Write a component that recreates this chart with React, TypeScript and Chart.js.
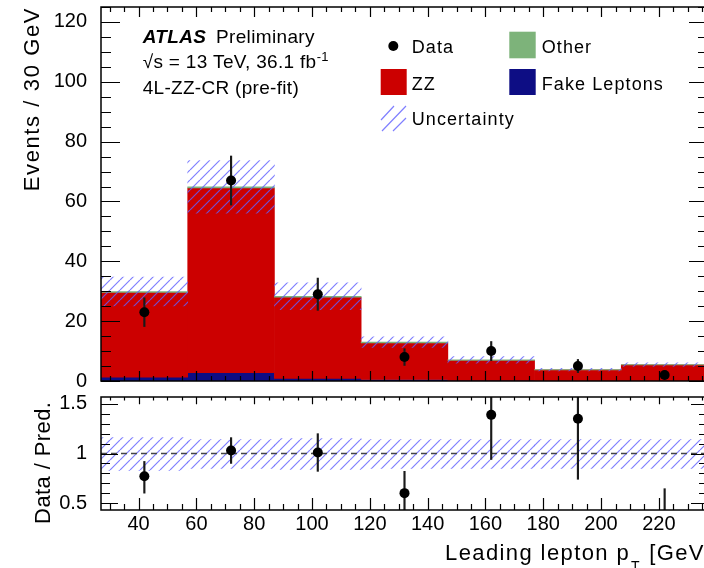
import React, { useEffect, useRef } from 'react';
import { Chart, registerables } from 'chart.js';

Chart.register(...registerables);

// ---------------- data ----------------
const binCenters = [42, 72, 102, 132, 162, 192, 222];
const xRange = [27, 237];
const fakeLeptons = [1.3, 2.8, 0.9, 0.5, 0.2, 0.1, 0.1];
const zzValues = [28.3, 61.7, 27.1, 12.2, 6.7, 3.6, 5.3];
const otherValues = [0.3, 0.4, 0.3, 0.3, 0.2, 0.1, 0.1];
const predUncertainty = [4.8, 8.8, 4.5, 1.8, 1.1, 0.4, 0.6];
const dataValues = [23, 67, 29, 8, 10, 5, 2];
const dataErrors = [4.8, 8.2, 5.4, 2.8, 3.2, 2.2, 1.4];
const ratioValues = [0.77, 1.03, 1.01, 0.6, 1.39, 1.35, 0.36];
const ratioErrLow = [0.6, 0.9, 0.82, 0.39, 0.94, 0.74, 0.08];
const ratioErrHigh = [0.92, 1.16, 1.2, 0.82, 1.84, 1.96, 0.645];
const ratioBandLow = [0.83, 0.85, 0.84, 0.85, 0.85, 0.85, 0.85];
const ratioBandHigh = [1.16, 1.14, 1.15, 1.14, 1.14, 1.14, 1.14];
const mainYTicks = [0, 20, 40, 60, 80, 100, 120];
const ratioYTicks = [0.5, 1, 1.5];
const xTicks = [40, 60, 80, 100, 120, 140, 160, 180, 200, 220];
const yMainRange = [0, 125];
const yRatioRange = [0.43, 1.57];

// ---------------- style ----------------
const FONT = '"Liberation Sans", Arial, sans-serif';
const RED = '#cc0000';
const BLUE = '#0d0d84';
const GREEN = '#7db37a';
const HATCH = 'rgba(95,95,255,0.8)';

function makeHatch(color: string, spacing = 10, lw = 1.2) {
  const c = document.createElement('canvas');
  c.width = spacing;
  c.height = spacing;
  const g = c.getContext('2d')!;
  g.strokeStyle = color;
  g.lineWidth = lw;
  g.beginPath();
  for (const k of [-1, 0, 1]) {
    g.moveTo(k * spacing, spacing);
    g.lineTo(k * spacing + spacing, 0);
  }
  g.stroke();
  return g.createPattern(c, 'repeat')!;
}

function txt(ctx: any, s: string, x: number, y: number, font: string, spacing = 0, align = 'left') {
  ctx.font = font;
  ctx.letterSpacing = spacing + 'px';
  ctx.textAlign = align;
  ctx.textBaseline = 'alphabetic';
  ctx.fillText(s, x, y);
  const w = ctx.measureText(s).width;
  ctx.letterSpacing = '0px';
  return w;
}

function framePlugin(id: string, cfg: any) {
  return {
    id,
    afterDraw(chart: any) {
      const { ctx, chartArea: a } = chart;
      const xs = chart.scales.x;
      const ys = chart.scales.y;
      ctx.save();
      ctx.strokeStyle = '#000';
      ctx.lineWidth = 1.2;
      ctx.beginPath();
      const kx0 = Math.ceil(xs.min / cfg.xStep);
      const kx1 = Math.floor(xs.max / cfg.xStep);
      for (let k = kx0; k <= kx1; k++) {
        const v = k * cfg.xStep;
        const px = Math.round(xs.getPixelForValue(v)) + 0.5;
        const major = Math.abs(v / cfg.xMajor - Math.round(v / cfg.xMajor)) < 1e-6;
        const len = major ? cfg.xMajLen : cfg.xMinLen;
        ctx.moveTo(px, a.bottom);
        ctx.lineTo(px, a.bottom - len);
        ctx.moveTo(px, a.top);
        ctx.lineTo(px, a.top + len * cfg.topScale);
      }
      const ky0 = Math.ceil(ys.min / cfg.yStep - 1e-6);
      const ky1 = Math.floor(ys.max / cfg.yStep + 1e-6);
      for (let k = ky0; k <= ky1; k++) {
        const v = k * cfg.yStep;
        const py = Math.round(ys.getPixelForValue(v)) + 0.5;
        const major = Math.abs(v / cfg.yMajor - Math.round(v / cfg.yMajor)) < 1e-6;
        const len = major ? cfg.yMajLen : cfg.yMinLen;
        ctx.moveTo(a.left, py);
        ctx.lineTo(a.left + len, py);
        ctx.moveTo(a.right, py);
        ctx.lineTo(a.right - len, py);
      }
      ctx.stroke();
      ctx.lineWidth = 1.5;
      ctx.strokeRect(a.left, a.top, a.right - a.left, a.bottom - a.top);
      ctx.restore();
    },
  };
}

const fitYAxis = (s: any) => {
  s.width = 101;
  s.paddingTop = 0;
  s.paddingBottom = 0;
};

export default function App() {
  const topRef = useRef<HTMLCanvasElement>(null);
  const botRef = useRef<HTMLCanvasElement>(null);

  useEffect(() => {
    document.body.style.margin = '0';
    const hatch = makeHatch(HATCH);

    const zzTop = binCenters.map((_, i) => fakeLeptons[i] + zzValues[i]);
    const total = zzTop.map((v, i) => v + otherValues[i]);

    const histBar = { grouped: false, categoryPercentage: 1, barPercentage: 1, borderWidth: 0 };

    const topTextPlugin = {
      id: 'topText',
      afterDraw(chart: any) {
        const ctx = chart.ctx;
        const oy = 20;
        ctx.save();
        ctx.fillStyle = '#000';
        // y-axis title
        ctx.save();
        ctx.translate(38.5, 7 + oy);
        ctx.rotate(-Math.PI / 2);
        txt(ctx, 'Events / 30 GeV', 0, 0, `22px ${FONT}`, 1.6, 'right');
        ctx.restore();
        // ATLAS label
        txt(ctx, 'ATLAS', 142.7, 43.3 + oy, `italic bold 19px ${FONT}`, 0.35);
        txt(ctx, 'Preliminary', 216, 43.3 + oy, `19px ${FONT}`, 0.35);
        const w = txt(ctx, '\u221As = 13 TeV, 36.1 fb', 142.7, 68.3 + oy, `19px ${FONT}`, 0.3);
        txt(ctx, '-1', 142.7 + w + 0.5, 61 + oy, `13px ${FONT}`, 0);
        txt(ctx, '4L-ZZ-CR (pre-fit)', 142.7, 93.5 + oy, `19px ${FONT}`, 0.3);
        // legend
        ctx.beginPath();
        ctx.arc(393.3, 46 + oy, 5, 0, Math.PI * 2);
        ctx.fill();
        txt(ctx, 'Data', 411.7, 52.5 + oy, `18px ${FONT}`, 1.1);
        ctx.fillStyle = GREEN;
        ctx.fillRect(509.3, 31.7 + oy, 26.4, 26.6);
        ctx.fillStyle = '#000';
        txt(ctx, 'Other', 541.7, 52.5 + oy, `18px ${FONT}`, 1.1);
        ctx.fillStyle = RED;
        ctx.fillRect(380.7, 69 + oy, 26, 26);
        ctx.fillStyle = BLUE;
        ctx.fillRect(509.3, 69 + oy, 26.4, 26);
        ctx.fillStyle = '#000';
        txt(ctx, 'ZZ', 411.7, 89.5 + oy, `18px ${FONT}`, 1.1);
        txt(ctx, 'Fake Leptons', 541.7, 89.5 + oy, `18px ${FONT}`, 1.1);
        ctx.strokeStyle = HATCH;
        ctx.lineWidth = 1.2;
        ctx.beginPath();
        ctx.moveTo(381, 120 + oy); ctx.lineTo(394, 106 + oy);
        ctx.moveTo(382, 131 + oy); ctx.lineTo(406, 106 + oy);
        ctx.moveTo(393, 131 + oy); ctx.lineTo(406, 118 + oy);
        ctx.stroke();
        txt(ctx, 'Uncertainty', 411.7, 125 + oy, `18px ${FONT}`, 1.1);
        ctx.restore();
      },
    };

    const c1 = new Chart(topRef.current!, {
      type: 'bar',
      data: {
        datasets: [
          {
            type: 'scatter',
            data: binCenters.map((x, i) => ({ x, y: dataValues[i] })),
            pointRadius: 5,
            backgroundColor: '#000',
            borderWidth: 0,
            order: 0,
          } as any,
          {
            data: binCenters.map((x, i) => ({ x, y: [dataValues[i] - dataErrors[i], dataValues[i] + dataErrors[i]] })),
            backgroundColor: '#1a1a1a',
            grouped: false,
            barThickness: 1.5,
            borderWidth: 0,
            order: 1,
          },
          {
            data: binCenters.map((x, i) => ({ x, y: [total[i] - predUncertainty[i], total[i] + predUncertainty[i]] })),
            backgroundColor: hatch,
            ...histBar,
            order: 2,
          },
          {
            data: binCenters.map((x, i) => ({ x, y: [zzTop[i], total[i]] })),
            backgroundColor: GREEN,
            ...histBar,
            order: 3,
          },
          {
            data: binCenters.map((x, i) => ({ x, y: [fakeLeptons[i], zzTop[i]] })),
            backgroundColor: RED,
            ...histBar,
            order: 4,
          },
          {
            data: binCenters.map((x, i) => ({ x, y: [0, fakeLeptons[i]] })),
            backgroundColor: BLUE,
            ...histBar,
            order: 5,
          },
        ] as any,
      },
      options: {
        responsive: false,
        animation: false,
        layout: { padding: { left: 0, right: 12, top: 27, bottom: 19 } },
        plugins: { legend: { display: false }, tooltip: { enabled: false } },
        scales: {
          x: {
            type: 'linear',
            axis: 'x',
            min: xRange[0],
            max: xRange[1],
            offset: false,
            display: false,
            afterBuildTicks: (s: any) => { s.ticks = []; },
          },
          y: {
            type: 'linear',
            min: yMainRange[0],
            max: yMainRange[1],
            grid: { display: false, drawTicks: false },
            border: { display: false },
            afterBuildTicks: (s: any) => { s.ticks = mainYTicks.map((v) => ({ value: v })); },
            afterFit: fitYAxis,
            ticks: {
              font: { family: FONT, size: 20 },
              color: '#000',
              padding: 14,
              callback: (v: any) => String(v),
            },
          },
        } as any,
      },
      plugins: [
        framePlugin('frameTop', {
          xStep: 5, xMajor: 20, xMajLen: 10, xMinLen: 5, topScale: 1,
          yStep: 5, yMajor: 20, yMajLen: 19, yMinLen: 10,
        }),
        topTextPlugin,
      ],
    });

    const botTextPlugin = {
      id: 'botText',
      afterDraw(chart: any) {
        const ctx = chart.ctx;
        const oy = -380;
        ctx.save();
        ctx.fillStyle = '#000';
        ctx.save();
        ctx.translate(49.5, 401.7 + oy);
        ctx.rotate(-Math.PI / 2);
        txt(ctx, 'Data / Pred.', 0, 0, `22px ${FONT}`, 0.4, 'right');
        ctx.restore();
        const x0 = 445;
        const w1 = txt(ctx, 'Leading lepton p', x0, 560 + oy, `22px ${FONT}`, 1.4);
        const w2 = txt(ctx, 'T', x0 + w1 + 1, 571 + oy, `14px ${FONT}`, 0);
        txt(ctx, ' [GeV]', x0 + w1 + w2 + 3, 560 + oy, `22px ${FONT}`, 1.4);
        ctx.restore();
      },
    };

    const c2 = new Chart(botRef.current!, {
      type: 'bar',
      data: {
        datasets: [
          {
            type: 'scatter',
            xAxisID: 'x',
            data: binCenters.map((x, i) => ({ x, y: ratioValues[i] })),
            pointRadius: 5,
            backgroundColor: '#000',
            borderWidth: 0,
            clip: 0,
            order: 0,
          } as any,
          {
            xAxisID: 'xb',
            data: binCenters.map((x, i) => ({ x, y: [ratioErrLow[i], ratioErrHigh[i]] })),
            backgroundColor: '#1a1a1a',
            grouped: false,
            barThickness: 1.5,
            borderWidth: 0,
            order: 1,
          },
          {
            type: 'line',
            xAxisID: 'x',
            data: [{ x: xRange[0], y: 1 }, { x: xRange[1], y: 1 }],
            borderColor: '#444',
            borderWidth: 1.5,
            borderDash: [6, 4],
            pointRadius: 0,
            fill: false,
            order: 2,
          } as any,
          {
            xAxisID: 'xb',
            data: binCenters.map((x, i) => ({ x, y: [ratioBandLow[i], ratioBandHigh[i]] })),
            backgroundColor: hatch,
            ...histBar,
            order: 3,
          },
        ] as any,
      },
      options: {
        responsive: false,
        animation: false,
        layout: { padding: { left: 0, right: 12, top: 17, bottom: 18 } },
        plugins: { legend: { display: false }, tooltip: { enabled: false } },
        scales: {
          x: {
            type: 'linear',
            axis: 'x',
            position: 'bottom',
            min: xRange[0],
            max: xRange[1],
            offset: false,
            grid: { display: false, drawTicks: false },
            border: { display: false },
            afterBuildTicks: (s: any) => { s.ticks = xTicks.map((v) => ({ value: v })); },
            afterFit: (s: any) => { s.height = 40; s.paddingLeft = 0; s.paddingRight = 0; },
            ticks: {
              font: { family: FONT, size: 20 },
              color: '#000',
              padding: 2,
              maxRotation: 0,
              autoSkip: false,
              callback: (v: any) => String(v),
            },
          },
          xb: {
            type: 'linear',
            axis: 'x',
            position: 'bottom',
            min: xRange[0],
            max: xRange[1],
            offset: false,
            display: false,
            afterBuildTicks: (s: any) => { s.ticks = []; },
          },
          y: {
            type: 'linear',
            min: yRatioRange[0],
            max: yRatioRange[1],
            grid: { display: false, drawTicks: false },
            border: { display: false },
            afterBuildTicks: (s: any) => { s.ticks = ratioYTicks.map((v) => ({ value: v })); },
            afterFit: fitYAxis,
            ticks: {
              font: { family: FONT, size: 20 },
              color: '#000',
              padding: 14,
              callback: (v: any) => String(v),
            },
          },
        } as any,
      },
      plugins: [
        framePlugin('frameBot', {
          xStep: 5, xMajor: 20, xMajLen: 12, xMinLen: 6, topScale: 0.6,
          yStep: 0.1, yMajor: 0.5, yMajLen: 17, yMinLen: 9,
        }),
        botTextPlugin,
      ],
    });

    return () => {
      c1.destroy();
      c2.destroy();
    };
  }, []);

  return (
    <div style={{ position: 'fixed', left: 0, top: 0, width: 704, height: 568, overflow: 'hidden', background: '#fff' }}>
      <canvas ref={topRef} width={720} height={420} style={{ position: 'absolute', left: 0, top: -20, width: 720, height: 420 }} />
      <canvas ref={botRef} width={720} height={188} style={{ position: 'absolute', left: 0, top: 380, width: 720, height: 188 }} />
    </div>
  );
}
